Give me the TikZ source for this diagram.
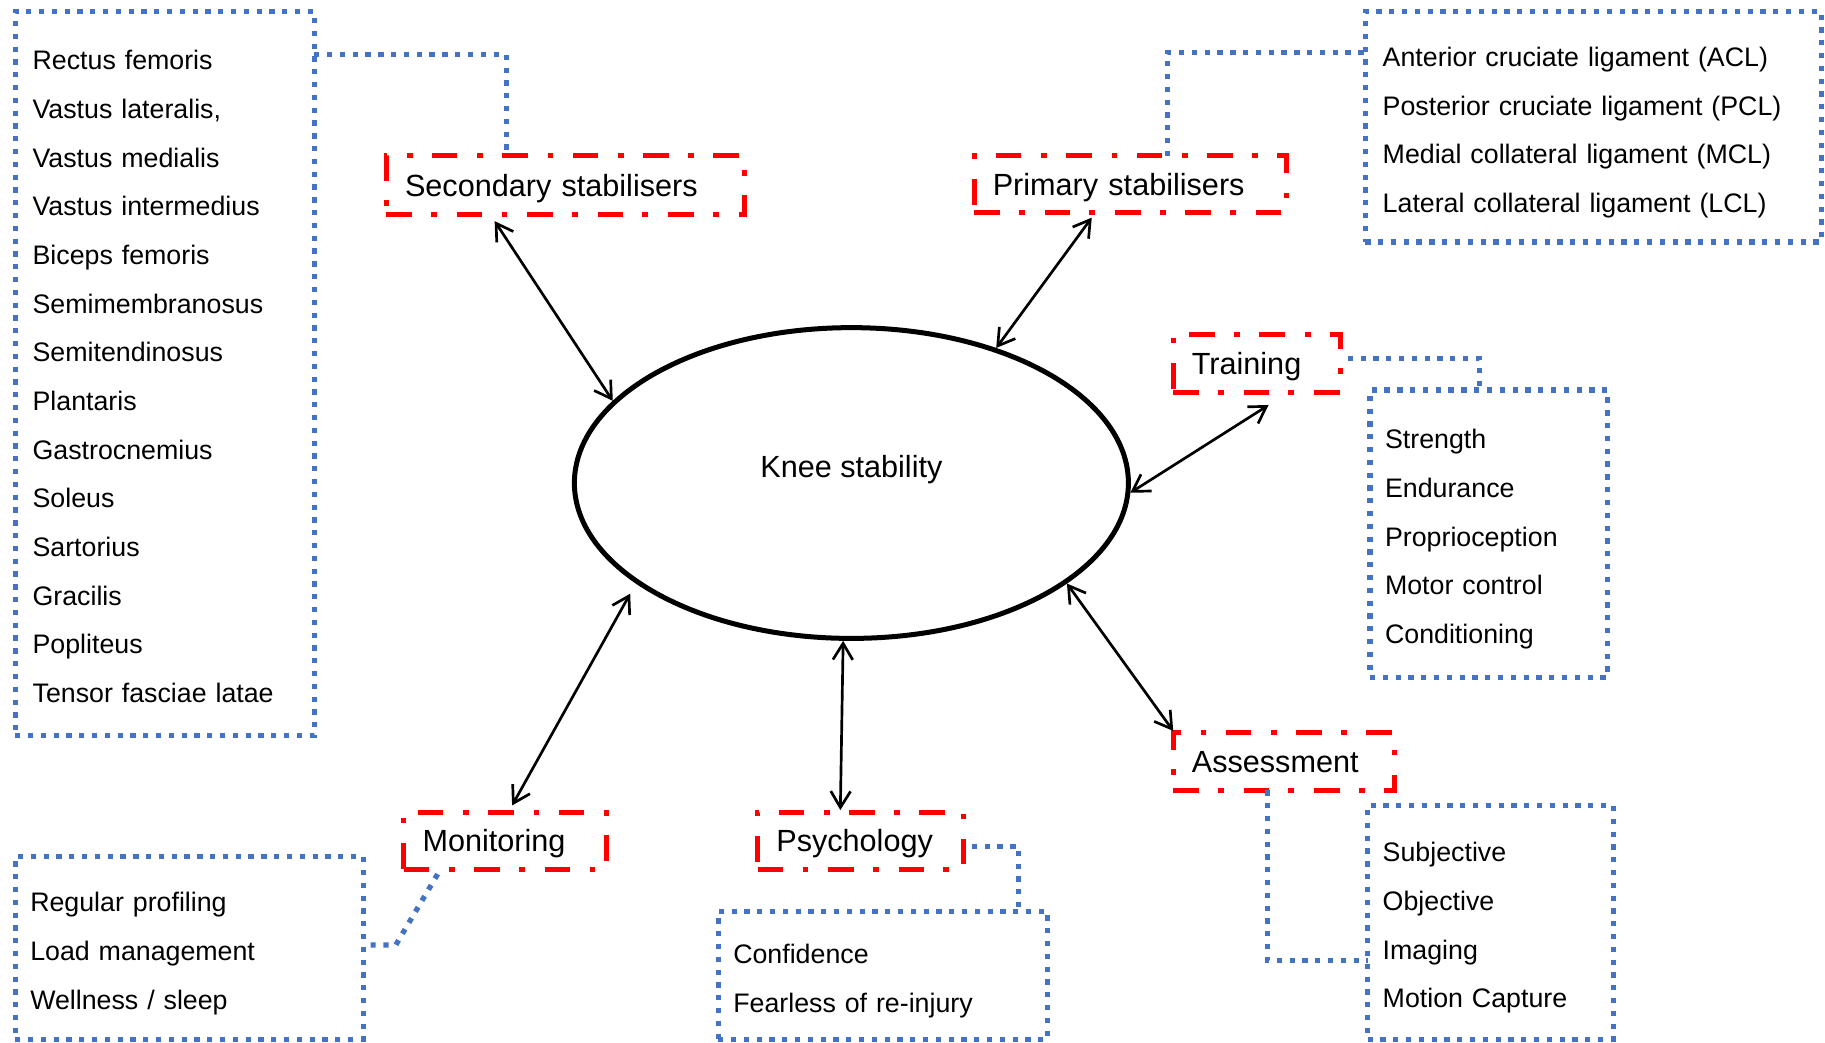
\documentclass[tikz,border=0pt]{standalone}
\usepackage{fontspec}
\setmainfont{Liberation Sans}
\usetikzlibrary{arrows.meta,shapes.geometric}
\definecolor{boxblue}{HTML}{4472C4}
\definecolor{boxred}{HTML}{FF0000}
\newcommand{\lsTop}{\rule{0pt}{28pt}}
\newcommand{\lsBot}{\rule[-6.5pt]{0pt}{6.5pt}}
\tikzset{
  listbox/.style={rectangle, draw=boxblue, line width=4.5pt, dash pattern=on 4.5pt off 6.5pt,
    anchor=north west, align=left, inner xsep=13pt, inner ysep=0pt, outer sep=0pt,
    font=\fontsize{23}{41.8}\selectfont},
  catbox/.style={rectangle, draw=boxred, line width=4.3pt, dash pattern=on 22pt off 16.5pt on 5pt off 17pt,
    anchor=north west, align=left, inner xsep=16pt, inner ysep=0pt, outer sep=0pt,
    text height=24pt, text depth=5.2pt,
    font=\fontsize{26.3}{30}\selectfont},
  link/.style={draw=boxblue, line width=4.5pt, dash pattern=on 4.5pt off 6.5pt},
  rel/.style={<->, line width=2.3pt, >={Straight Barb[length=14pt,width=17pt,line width=2.3pt]}},
}
\begin{document}
\begin{tikzpicture}[x=1pt,y=-1pt]
\useasboundingbox (0,0) rectangle (1568,896);

% central ellipse
\node[ellipse, draw, line width=4.3pt, minimum width=476pt, minimum height=267pt, inner sep=0pt,
  text height=20pt, text depth=30pt, font=\fontsize{26.3}{30}\selectfont] (knee) at (731.5,415) {Knee stability};

% category boxes
\node[catbox, text width=276pt, minimum height=50pt] (sec) at (332,134) {Secondary stabilisers};
\node[catbox, text width=236pt, minimum height=49pt] (pri) at (837,134) {Primary stabilisers};
\node[catbox, text width=112pt, minimum height=50pt] (tra) at (1008,287) {Training};
\node[catbox, text width=158pt, minimum height=50pt] (ass) at (1008,629) {Assessment};
\node[catbox, text width=145pt, minimum height=49pt] (psy) at (651,698) {Psychology};
\node[catbox, text width=142pt, minimum height=49pt] (mon) at (347,698) {Monitoring};

% list boxes
\node[listbox, inner xsep=15pt, text width=227pt, minimum height=622pt] (mus) at (13,10)
 {\lsTop Rectus femoris\\ Vastus lateralis,\\ Vastus medialis\\ Vastus intermedius\\ Biceps femoris\\
  Semimembranosus\\ Semitendinosus\\ Plantaris\\ Gastrocnemius\\ Soleus\\ Sartorius\\ Gracilis\\
  Popliteus\\ Tensor fasciae latae\lsBot};
\node[listbox, inner xsep=15pt, text width=362pt, minimum height=198pt] (lig) at (1173,10)
 {\lsTop Anterior cruciate ligament (ACL)\\ Posterior cruciate ligament (PCL)\\
  Medial collateral ligament (MCL)\\ Lateral collateral ligament (LCL)\lsBot};
\node[listbox, text width=178pt, minimum height=247pt] (trl) at (1177,335)
 {\lsTop Strength\\ Endurance\\ Proprioception\\ Motor control\\ Conditioning\lsBot};
\node[listbox, text width=185pt, minimum height=201pt] (asl) at (1175,692)
 {\lsTop Subjective\\ Objective\\ Imaging\\ Motion Capture\lsBot};
\node[listbox, text width=257pt, minimum height=110pt] (psl) at (617,783)
 {\lsTop Confidence\\ Fearless of re-injury\lsBot};
\node[listbox, text width=273pt, minimum height=157pt] (mnl) at (13,736)
 {\lsTop Regular profiling\\ Load management\\ Wellness / sleep\lsBot};

% dotted links
\draw[link] ([yshift=-37pt]mus.north east) -| ([xshift=103pt]sec.north west);
\draw[link] ([xshift=166pt]pri.north west) |- ([yshift=-35pt]lig.north west);
\draw[link] ([xshift=6pt,yshift=-21pt]tra.north east) -| ([xshift=94pt]trl.north west);
\draw[link] ([xshift=81pt]ass.south west) |- ([yshift=-133pt]asl.north west);
\draw[link] ([xshift=7pt,yshift=-29pt]psy.north east) -| ([xshift=258pt]psl.north west);
\draw[link] ([xshift=29pt,yshift=-4pt]mon.south west) -- ++(-36,61) -- ([yshift=-76pt]mnl.north east);

% double arrows
\draw[rel] ([xshift=93pt,yshift=-6pt]sec.south west) -- (knee.161);
\draw[rel] ([xshift=101pt,yshift=-4pt]pri.south west) -- (knee.43);
\draw[rel] (knee.-2) -- ([xshift=82pt,yshift=-11pt]tra.south west);
\draw[rel] (knee.-25) -- ([yshift=1pt]ass.north west);
\draw[rel] (knee.267.5) -- ([xshift=71pt,yshift=2pt]psy.north west);
\draw[rel, shorten <=10pt] (knee.205) -- ([xshift=93pt,yshift=6pt]mon.north west);
\end{tikzpicture}
\end{document}
